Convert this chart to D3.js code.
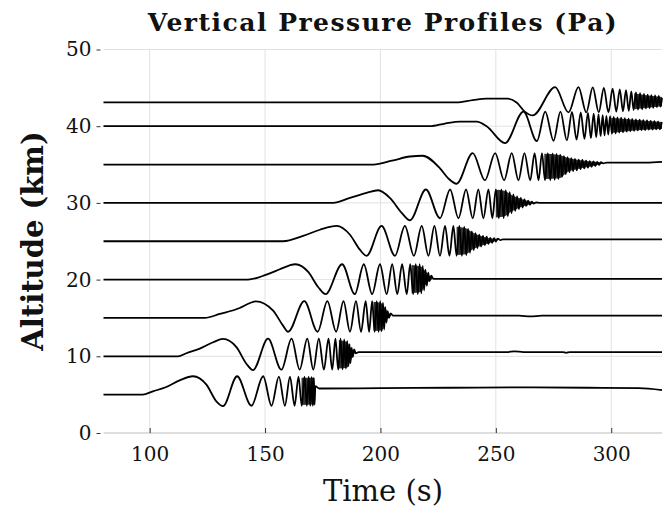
<!DOCTYPE html>
<html>
<head>
<meta charset="utf-8">
<script src="https://cdnjs.cloudflare.com/ajax/libs/d3/7.8.5/d3.min.js"></script>
<style>
  html, body { margin: 0; padding: 0; background: #fff; }
  svg { display: block; }
  .tick-label { font-family: "DejaVu Serif", serif; font-size: 20px; fill: #111; }
  .title { font-family: "DejaVu Serif", serif; font-size: 25px; font-weight: bold; letter-spacing: 1.5px; fill: #111; }
  .axis-label { font-family: "DejaVu Serif", serif; font-size: 29px; fill: #111; }
</style>
</head>
<body>
<script>
'use strict';

// tick values
const xTicks = [100, 150, 200, 250, 300];
const yTicks = [0, 10, 20, 30, 40, 50];

// altitude of each profile (km)
const altitudes = [5, 10, 15, 20, 25, 30, 35, 40, 43.1];

// each profile: [time (s), scaled pressure (km offset)] read at the turning points
const p05 = [[80,0],[97,0],[101.4,0.43],[107.2,1.0],[113,1.87],[118.8,2.4],[124.6,1.3],[128.9,-0.87],[131.8,-1.5],
  [137.9,2.4],[144.1,-1.45],[149.2,2.4],[152.8,-1.45],[156,2.35],[158.6,-1.45],[160.8,2.35],[162.8,-1.45],
  [164.5,2.35],[165.9,-1.45],[167.1,2.35],[168.1,-1.45],[168.9,2.35],[169.6,-1.45],[170.2,2.3],[170.7,-1.45],
  [171.1,2.2],[171.45,-1.3],[171.8,1.1],[173.5,0.8],[200,0.85],[230,0.9],[260,0.95],[290,0.9],[312,0.85],[322,0.6]];
const p10 = [[80,0],[112.3,0],[115.9,0.4],[121.7,1.0],[127.5,1.83],[131.8,2.27],[137.6,1.2],[142,-1.0],[144.8,-1.8],
  [151.3,2.3],[157.1,-1.75],[161.5,2.3],[165,-1.75],[168.3,2.3],[170.9,-1.75],[173.3,2.3],[175.5,-1.75],[177.5,2.3],
  [179.1,-1.75],[180.5,2.3],[181.7,-1.75],[182.7,2.3],[183.6,-1.7],[184.3,2.2],[185,-1.6],[185.6,2.0],[186.1,-1.3],
  [186.6,1.6],[187,-0.9],[187.5,1.1],[188,-0.1],[188.6,0.9],[189.3,0.4],[190.5,0.55],[255,0.55],[258,0.65],
  [262,0.55],[279,0.55],[280.5,0.45],[282,0.55],[322,0.55]];
const p15 = [[80,0],[123.9,0],[130.4,0.52],[139,1.3],[143.5,1.95],[146,2.17],[153.5,0.95],[157.8,-1.0],[160,-1.8],
  [167,2.2],[172.8,-1.8],[177,2.2],[180.8,-1.8],[184,2.2],[186.8,-1.8],[189.4,2.2],[191.6,-1.8],[193.6,2.2],
  [195.1,-1.8],[196.4,2.2],[197.5,-1.8],[198.4,2.2],[199.2,-1.8],[199.9,2.2],[200.5,-1.75],[201.1,2.0],
  [201.6,-1.5],[202.1,1.4],[202.6,-0.6],[203.1,0.9],[203.7,0],[204.4,0.6],[205.5,0.3],[260,0.3],[265,0.2],
  [270,0.3],[322,0.3]];
const p20 = [[80,0],[142.6,0],[150.6,0.65],[156.4,1.35],[160.7,1.87],[163.2,2.0],[168.7,1.0],[173,-0.96],[176.2,-1.9],
  [183.4,2.0],[188.9,-1.9],[192.8,2.0],[196.4,-1.9],[199.8,2.0],[202.7,-1.9],[205.1,2.0],[207.3,-1.9],[209.4,2.0],
  [211.4,-1.9],[212.9,2.0],[214.2,-1.9],[215.3,2.0],[216.2,-1.9],[217,2.0],[217.7,-1.8],[218.3,1.8],[218.9,-1.4],
  [219.5,1.3],[220.1,-0.8],[220.7,0.9],[221.3,-0.2],[222,0.5],[223,0.1],[322,0.1]];
const p25 = [[80,0],[157.8,0],[166.5,0.7],[173.8,1.5],[181,2.0],[186.8,0.85],[191.1,-1.1],[194,-1.9],
  [200.5,2.0],[206.3,-1.9],[210.6,2.0],[214.5,-1.9],[217.9,2.0],[220.8,-1.9],[223.4,2.0],[225.8,-1.9],[228,2.0],
  [229.9,-1.9],[231.6,2.0],[233,-1.9],[234.2,2.0],[235.3,-1.9],[236.3,1.9],[237.2,-1.8],[238,1.6],[238.8,-1.5],
  [239.6,1.3],[240.4,-1.15],[241.2,1.05],[242,-0.9],[242.8,0.85],[243.6,-0.7],[244.4,0.7],[245.2,-0.5],[246,0.6],
  [246.8,-0.35],[247.6,0.45],[248.4,-0.2],[249.2,0.4],[250,-0.05],[250.8,0.35],[252,0.15],[253,0.25],[322,0.25]];
const p30 = [[80,0],[179.5,0],[186.8,0.65],[194,1.3],[199,1.65],[204.1,0.65],[209.2,-1.3],[212.8,-2.27],
  [219.7,1.75],[225.8,-2.0],[230.2,1.75],[233.8,-2.0],[237.1,1.75],[240,-2.0],[242.4,1.75],[244.6,-2.0],[246.8,1.75],
  [248.5,-2.0],[250,1.75],[251.3,-2.0],[252.4,1.75],[253.4,-2.0],[254.3,1.65],[255.2,-1.75],[256,1.4],[256.8,-1.35],
  [257.6,1.1],[258.4,-1.05],[259.2,0.85],[260,-0.8],[260.8,0.65],[261.6,-0.6],[262.4,0.45],[263.2,-0.4],[264,0.3],
  [264.8,-0.25],[265.6,0.15],[266.4,-0.1],[267.5,0.05],[269,0],[322,0]];
const p35 = [[80,0],[197,0],[205,0.5],[212.8,1.05],[218.3,1.15],[225.8,-0.5],[229.4,-1.8],[233,-2.5],
  [240,1.5],[245.3,-2.05],[249.7,1.5],[253.6,-2.05],[256.9,1.5],[259.8,-2.05],[262.4,1.5],[264.9,-2.05],[266.8,1.5],
  [268.5,-2.05],[270,1.5],[271.3,-2.05],[272.5,1.5],[273.6,-2.05],[274.6,1.45],[275.5,-2.0],[276.3,1.4],[277.1,-1.9],
  [277.9,1.3],[278.7,-1.6],[279.5,1.1],[280.3,-1.25],[281.1,0.95],[281.9,-1.0],[282.7,0.85],[283.5,-0.85],
  [284.3,0.75],[285.1,-0.75],[285.9,0.65],[286.7,-0.6],[287.5,0.6],[288.3,-0.5],[289.1,0.5],[289.9,-0.4],
  [290.7,0.45],[291.5,-0.3],[292.3,0.4],[293.1,-0.2],[293.9,0.35],[294.7,-0.05],[295.5,0.3],[296.5,0.15],
  [298,0.25],[315,0.25],[322,0.35]];
const p40 = [[80,0],[221.5,0],[228,0.35],[234.5,0.6],[241.7,0.6],[246,0],[254,-2.2],
  [262,1.9],[267.8,-1.95],[271.4,1.9],[275,-1.9],[278,1.9],[280.8,-1.85],[283,1.85],[285,-1.75],[286.8,1.8],
  [288.4,-1.65],[289.9,1.75],[291.2,-1.55],[292.4,1.65],[293.5,-1.45],[294.5,1.55],[295.4,-1.3],[296.3,1.45],
  [297.1,-1.2],[297.9,1.35],[298.7,-1.1],[299.5,1.3],[300.3,-1.0],[301.1,1.2],[301.9,-0.95],[302.7,1.15],
  [303.5,-0.85],[304.3,1.1],[305.1,-0.8],[305.9,1.05],[306.7,-0.7],[307.5,1.0],[308.3,-0.65],[309.1,0.95],
  [309.9,-0.6],[310.7,0.9],[311.5,-0.55],[312.3,0.85],[313.1,-0.5],[313.9,0.8],[314.7,-0.5],[315.5,0.75],
  [316.3,-0.45],[317.1,0.7],[317.9,-0.45],[318.7,0.65],[319.5,-0.4],[320.3,0.6],[321.1,-0.4],[321.9,0.55]];
const p43 = [[80,0],[233,0],[240,0.3],[246,0.5],[255,0.5],[259,0],[262.5,-1.2],[266,-1.7],
  [275.7,2.0],[281.5,-1.3],[285.8,2.0],[289.2,-1.3],[292,1.95],[294.6,-1.3],[296.8,1.9],[298.8,-1.3],[300.6,1.8],
  [302.2,-1.2],[303.7,1.7],[305.1,-1.15],[306.4,1.6],[307.6,-1.1],[308.7,1.45],[309.7,-1.0],[310.7,1.3],
  [311.6,-0.95],[312.5,1.2],[313.4,-0.9],[314.2,1.1],[315,-0.8],[315.8,1.0],[316.6,-0.75],[317.4,0.95],
  [318.2,-0.7],[319,0.9],[319.8,-0.6],[320.6,0.85],[321.4,-0.55],[322,0.6]];

// where the wiggles are too fast to tell apart: [time, upper, lower] of the black band
const b05 = [[165.8,2.2,-1.35],[171.3,2.2,-1.3],[171.6,1.0,0.6]];
const b10 = [[182,2.1,-1.6],[185.5,1.9,-1.5],[186.8,1.2,-0.8],[188.2,0.8,0.1],[189,0.6,0.45]];
const b15 = [[197,2.1,-1.7],[200.8,1.9,-1.6],[202.2,1.2,-0.5],[203.8,0.6,0.1],[204.5,0.4,0.25]];
const b20 = [[213.5,1.9,-1.8],[217.5,1.7,-1.6],[219.5,1.1,-0.7],[221.5,0.4,-0.1],[222.5,0.2,0.05]];
const b25 = [[233,1.9,-1.8],[237,1.7,-1.7],[240,1.15,-1.05],[244,0.65,-0.55],[248,0.35,-0.15],[251,0.3,0.15]];
const b30 = [[250,1.7,-1.9],[254,1.55,-1.7],[257,1.0,-1.1],[261,0.55,-0.55],[264.5,0.2,-0.2],[267,0.05,-0.05]];
const b35 = [[271,1.4,-1.9],[277.5,1.25,-1.8],[281,0.9,-1.0],[286,0.6,-0.55],[291,0.4,-0.25],[295,0.3,0],[296.5,0.2,0.15]];
const b40 = [[300,1.1,-0.9],[310,0.85,-0.55],[322,0.55,-0.35]];
const b43 = [[310,1.2,-0.9],[316,0.9,-0.7],[322,0.7,-0.5]];

const profiles = [p05, p10, p15, p20, p25, p30, p35, p40, p43];
const bands = [b05, b10, b15, b20, b25, b30, b35, b40, b43];

const width = 672, height = 511;

const svg = d3.select('body').append('svg')
  .attr('width', width)
  .attr('height', height);

// scales
const x = d3.scaleLinear().domain([80, 322]).range([103.5, 662]);
const y = d3.scaleLinear().domain([0, 50]).range([433, 49.5]);

// grid
svg.append('g').selectAll('line.vgrid')
  .data(xTicks)
  .enter().append('line')
    .attr('x1', (d) => x(d)).attr('x2', (d) => x(d))
    .attr('y1', y(50)).attr('y2', y(0))
    .attr('stroke', '#e2e2e2').attr('stroke-width', 1);

svg.append('g').selectAll('line.hgrid')
  .data(yTicks)
  .enter().append('line')
    .attr('x1', x(80)).attr('x2', x(322))
    .attr('y1', (d) => y(d)).attr('y2', (d) => y(d))
    .attr('stroke', (d) => d == 0 ? '#bdbdbd' : '#e2e2e2').attr('stroke-width', 1);

// x axis ticks + labels
const xAxis = d3.axisBottom(x).tickValues(xTicks).tickSize(-5).tickPadding(14);
const gx = svg.append('g')
  .attr('transform', 'translate(0,' + y(0) + ')')
  .call(xAxis);
gx.select('.domain').remove();
gx.selectAll('.tick line').attr('stroke', '#333');
gx.selectAll('.tick text').attr('class', 'tick-label').attr('fill', null);

// y axis ticks + labels
const yAxis = d3.axisLeft(y).tickValues(yTicks).tickSize(4).tickPadding(5);
const gy = svg.append('g')
  .attr('transform', 'translate(' + (x(80) - 3) + ',0)')
  .call(yAxis);
gy.select('.domain').remove();
gy.selectAll('.tick line').attr('stroke', '#333');
gy.selectAll('.tick text').attr('class', 'tick-label').attr('fill', null);

// dense parts as filled bands
bands.forEach((b, i) => {
  const area = d3.area()
    .x((d) => x(d[0]))
    .y0((d) => y(altitudes[i] + d[2]))
    .y1((d) => y(altitudes[i] + d[1]))
    .curve(d3.curveMonotoneX);
  svg.append('path')
    .datum(b)
    .attr('fill', '#000')
    .attr('fill-opacity', 0.8)
    .attr('d', area);
});

// profiles
const line = d3.line()
  .x((d) => x(d[0]))
  .y((d) => y(d[1]))
  .curve(d3.curveMonotoneX);

profiles.forEach((p, i) => {
  const pts = p.map((d) => [d[0], altitudes[i] + d[1]]);
  svg.append('path')
    .datum(pts)
    .attr('fill', 'none')
    .attr('stroke', '#000')
    .attr('stroke-width', 1.8)
    .attr('stroke-linejoin', 'round')
    .attr('d', line);
});

// labels
svg.append('text')
  .attr('class', 'title')
  .attr('x', 383).attr('y', 31)
  .attr('text-anchor', 'middle')
  .text('Vertical Pressure Profiles (Pa)');

svg.append('text')
  .attr('class', 'axis-label')
  .attr('x', 383).attr('y', 501)
  .attr('text-anchor', 'middle')
  .text('Time (s)');

svg.append('text')
  .attr('class', 'axis-label')
  .attr('font-weight', 'bold')
  .attr('font-size', '30px')
  .attr('transform', 'translate(43, 241)rotate(-90)')
  .attr('text-anchor', 'middle')
  .text('Altitude (km)');
</script>
</body>
</html>
